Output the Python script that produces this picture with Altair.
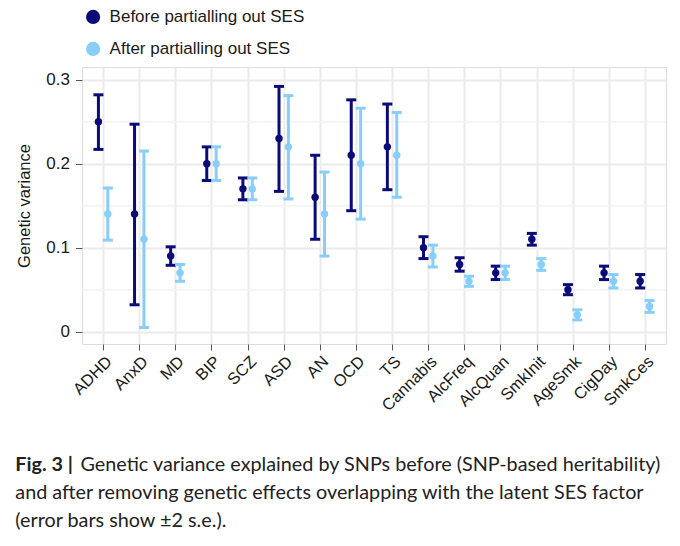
import altair as alt
import pandas as pd

categories = ["ADHD", "AnxD", "MD", "BIP", "SCZ", "ASD", "AN", "OCD", "TS",
              "Cannabis", "AlcFreq", "AlcQuan", "SmkInit", "AgeSmk", "CigDay", "SmkCes"]
before_val = [0.25, 0.14, 0.09, 0.20, 0.17, 0.23, 0.16, 0.21, 0.22, 0.10, 0.08, 0.07, 0.11, 0.05, 0.07, 0.06]
before_lo = [0.217, 0.032, 0.079, 0.180, 0.157, 0.167, 0.110, 0.144, 0.169, 0.087, 0.072, 0.062, 0.103, 0.044, 0.062, 0.052]
before_hi = [0.282, 0.247, 0.101, 0.220, 0.183, 0.292, 0.210, 0.276, 0.271, 0.113, 0.088, 0.078, 0.117, 0.056, 0.078, 0.068]
after_val = [0.14, 0.11, 0.07, 0.20, 0.17, 0.22, 0.14, 0.20, 0.21, 0.09, 0.06, 0.07, 0.08, 0.02, 0.06, 0.03]
after_lo = [0.109, 0.005, 0.060, 0.180, 0.157, 0.158, 0.090, 0.134, 0.160, 0.077, 0.054, 0.062, 0.073, 0.014, 0.052, 0.023]
after_hi = [0.171, 0.215, 0.080, 0.220, 0.183, 0.281, 0.190, 0.266, 0.261, 0.103, 0.066, 0.078, 0.087, 0.026, 0.068, 0.037]
groups = ["Before partialling out SES", "After partialling out SES"]
minor_grid = [0.05, 0.15, 0.25]
y_ticks = [0, 0.1, 0.2, 0.3]

colors = ["#0a0a78", "#87cefa"]

rows = []
for g, vals, los, his in [(groups[0], before_val, before_lo, before_hi),
                          (groups[1], after_val, after_lo, after_hi)]:
    for c, v, lo, hi in zip(categories, vals, los, his):
        rows.append({"cat": c, "group": g, "value": v, "lo": lo, "hi": hi})
df = pd.DataFrame(rows)

FONT = "Liberation Sans"
CAPFONT = "Lato"

xscale = alt.Scale(type="point", padding=0.585, domain=categories)
yscale = alt.Scale(domain=[-0.0147, 0.3151], nice=False, zero=False)

xaxis = alt.Axis(title=None, labelAngle=-45, labelFontSize=16.5, labelFont=FONT,
                 labelColor="#1a1a1a", grid=True, gridColor="#ebebeb", gridWidth=2,
                 tickColor="#555555", tickSize=6, domain=False, labelPadding=3)
yaxis = alt.Axis(title="Genetic variance", values=y_ticks,
                 labelExpr="datum.value == 0 ? '0' : format(datum.value, '.1f')",
                 labelFontSize=17, labelFont=FONT, labelColor="#1a1a1a",
                 titleFont=FONT, titleFontSize=16.5, titleFontWeight="normal",
                 titleColor="#1a1a1a", titlePadding=13,
                 grid=True, gridColor="#ebebeb", gridWidth=2,
                 tickColor="#555555", tickSize=6.5, domain=False, labelPadding=6)

minor = alt.Chart(pd.DataFrame({"y": minor_grid})).mark_rule(
    color="#f3f3f3", strokeWidth=1.5).encode(y=alt.Y("y:Q", scale=yscale, axis=yaxis))

layers = [minor]
offsets = [-4.7, 4.7]
for g, col, off in zip(groups, colors, offsets):
    base = alt.Chart(df).transform_filter(alt.datum.group == g)
    x = alt.X("cat:N", scale=xscale, axis=xaxis, sort=categories)
    rule = base.mark_rule(strokeWidth=3, xOffset=off, color=col).encode(
        x=x, y=alt.Y("lo:Q", scale=yscale, axis=yaxis), y2="hi:Q")
    cap_lo = base.mark_tick(size=10, thickness=3, xOffset=off, color=col, opacity=1).encode(
        x=x, y=alt.Y("lo:Q", scale=yscale, axis=yaxis))
    cap_hi = base.mark_tick(size=10, thickness=3, xOffset=off, color=col, opacity=1).encode(
        x=x, y=alt.Y("hi:Q", scale=yscale, axis=yaxis))
    pt = base.mark_circle(size=55, opacity=1, xOffset=off).encode(
        x=x, y=alt.Y("value:Q", scale=yscale, axis=yaxis),
        color=alt.Color("group:N",
                        scale=alt.Scale(domain=groups, range=colors),
                        legend=alt.Legend(title=None, orient="none", legendX=2.6, legendY=-58.6,
                                          direction="vertical", symbolType="circle",
                                          symbolSize=200, symbolStrokeWidth=0,
                                          labelFontSize=17, labelFont=FONT, labelLimit=0,
                                          labelColor="#1a1a1a", labelOffset=8,
                                          rowPadding=14, padding=0)))
    layers += [rule, cap_lo, cap_hi, pt]

one = alt.Data(values=[{}])
cap_style = dict(align="left", baseline="alphabetic", fontSize=19.8, font=CAPFONT, color="#222222")
cap1a = alt.Chart(one).mark_text(fontWeight="bold", **cap_style).encode(
    x=alt.value(-66.7), y=alt.value(404.4), text=alt.value("Fig. 3 |"))
cap1b = alt.Chart(one).mark_text(**cap_style).encode(
    x=alt.value(-1.5), y=alt.value(404.4),
    text=alt.value("Genetic variance explained by SNPs before (SNP-based heritability)"))
cap2 = alt.Chart(one).mark_text(**cap_style).encode(
    x=alt.value(-66.7), y=alt.value(431.7),
    text=alt.value("and after removing genetic effects overlapping with the latent SES factor"))
cap3 = alt.Chart(one).mark_text(**cap_style).encode(
    x=alt.value(-66.7), y=alt.value(459.7),
    text=alt.value("(error bars show ±2 s.e.)."))
layers += [cap1a, cap1b, cap2, cap3]

chart = alt.layer(*layers).properties(
    width=584, height=277,
    autosize=alt.AutoSizeParams(type="none"),
    padding={"left": 74, "top": 59, "right": 6, "bottom": 190},
).configure_view(stroke="#4d4d4d", strokeWidth=1).configure(background="white")

chart.save("out.html", embed_options={"renderer": "svg", "actions": False})
